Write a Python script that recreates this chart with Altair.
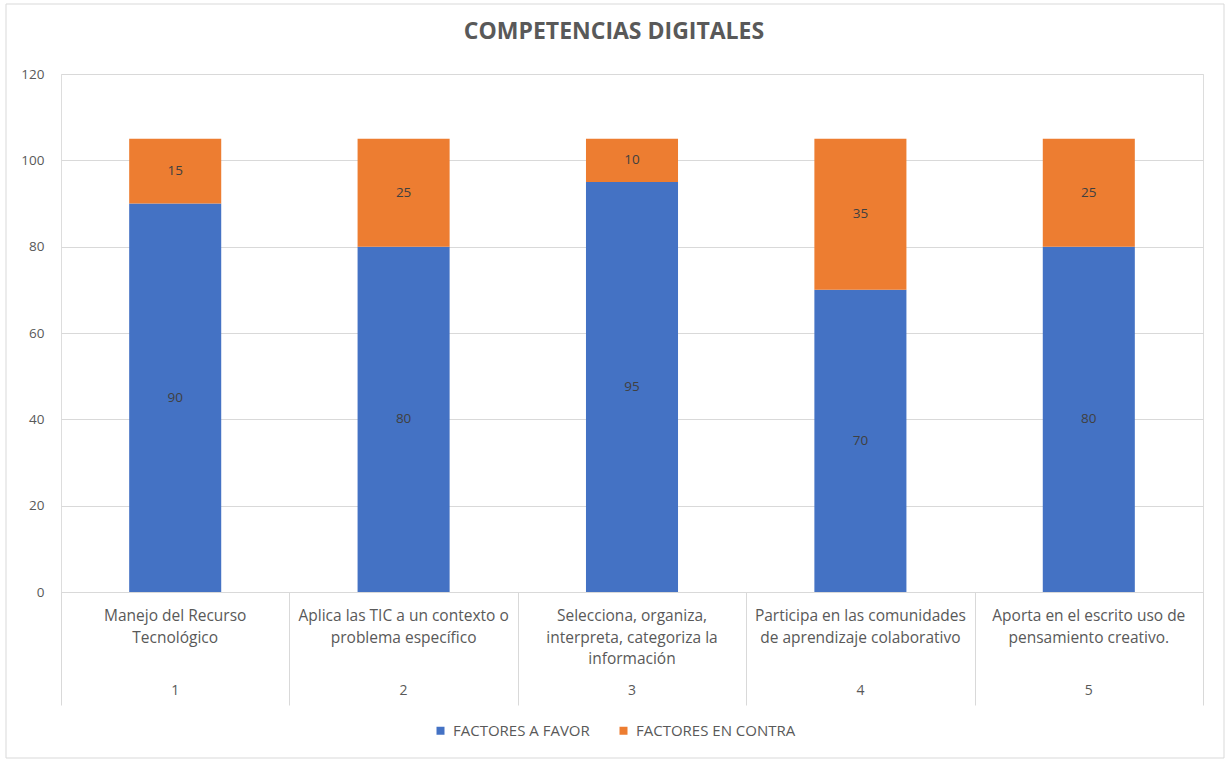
import altair as alt
import pandas as pd

# ---- data ----
nums = [1, 2, 3, 4, 5]
categories = [
    "Manejo del Recurso\nTecnológico",
    "Aplica las TIC a un contexto o\nproblema específico",
    "Selecciona, organiza,\ninterpreta, categoriza la\ninformación",
    "Participa en las comunidades\nde aprendizaje colaborativo",
    "Aporta en el escrito uso de\npensamiento creativo.",
]
series = ["FACTORES A FAVOR", "FACTORES EN CONTRA"]
favor = [90, 80, 95, 70, 80]
contra = [15, 25, 10, 35, 25]
y_ticks = [0, 20, 40, 60, 80, 100, 120]
colors = ["#4472C4", "#ED7D31"]

rows = []
for n, c, f, k in zip(nums, categories, favor, contra):
    rows.append({"num": n, "cat": c, "serie": series[0], "value": f, "ord": 0})
    rows.append({"num": n, "cat": c, "serie": series[1], "value": k, "ord": 1})
df = pd.DataFrame(rows)
cat_df = pd.DataFrame({"num": nums, "cat": categories})

FONT = "Open Sans"
GRAY = "#595959"
W, H = 1142, 518

x_enc = alt.X(
    "num:O",
    title=None,
    scale=alt.Scale(paddingInner=0, paddingOuter=0),
    axis=alt.Axis(
        labels=False,
        tickBand="extent",
        tickSize=113,
        tickColor="#d9d9d9",
        domainColor="#d9d9d9",
        grid=False,
    ),
)

base = alt.Chart(df)

bars = base.mark_bar(width=alt.RelativeBandSize(0.403)).encode(
    x=x_enc,
    y=alt.Y(
        "value:Q",
        stack="zero",
        title=None,
        scale=alt.Scale(domain=[0, 120], nice=False),
        axis=alt.Axis(
            values=y_ticks,
            domain=False,
            ticks=False,
            gridColor="#d9d9d9",
            labelColor=GRAY,
            labelFontSize=13.5,
            labelFont=FONT,
            labelPadding=17,
        ),
    ),
    color=alt.Color(
        "serie:N",
        scale=alt.Scale(domain=series, range=colors),
        legend=alt.Legend(
            title=None,
            orient="none",
            direction="horizontal",
            legendX=372,
            legendY=649,
            symbolType="square",
            symbolSize=64,
            symbolStrokeWidth=0,
            labelFont=FONT,
            labelFontSize=15,
            labelColor=GRAY,
            columnPadding=26,
            labelOffset=5,
        ),
    ),
    order=alt.Order("ord:Q", sort="ascending"),
)

labels = (
    base.transform_stack(
        stack="value", as_=["v0", "v1"], groupby=["num"], sort=[alt.SortField("ord", "ascending")]
    )
    .transform_calculate(mid="(datum.v0 + datum.v1) / 2")
    .mark_text(font=FONT, fontSize=13.5, color="#404040", baseline="middle")
    .encode(x=alt.X("num:O"), y=alt.Y("mid:Q"), text=alt.Text("value:Q"))
)

cat_text = (
    alt.Chart(cat_df)
    .mark_text(font=FONT, fontSize=15.5, color=GRAY, baseline="middle", lineBreak="\n", lineHeight=21.5)
    .encode(x=alt.X("num:O"), y=alt.value(H + 24), text="cat:N")
)
num_text = (
    alt.Chart(cat_df)
    .mark_text(font=FONT, fontSize=14, color=GRAY, baseline="middle")
    .encode(x=alt.X("num:O"), y=alt.value(H + 99), text="num:O")
)

border = (
    alt.Chart(pd.DataFrame({"a": [0]}))
    .mark_rect(fill="transparent", stroke="#d9d9d9", strokeWidth=1)
    .encode(x=alt.value(-55), x2=alt.value(1163), y=alt.value(-70), y2=alt.value(684))
)

chart = (
    alt.layer(border, bars, labels, cat_text, num_text)
    .properties(
        width=W,
        height=H,
        title=alt.TitleParams(
            "COMPETENCIAS DIGITALES",
            anchor="middle",
            font=FONT,
            fontSize=23,
            fontWeight="bold",
            color=GRAY,
            dx=-18,
            baseline="alphabetic",
            offset=-58,
        ),
        padding={"left": 61, "top": 74, "right": 23, "bottom": 167},
        autosize=alt.AutoSizeParams(type="none"),
    )
    .configure_view(stroke=None)
    .configure(background="white")
)

chart.save("out.html", embed_options={"renderer": "svg", "actions": False})
